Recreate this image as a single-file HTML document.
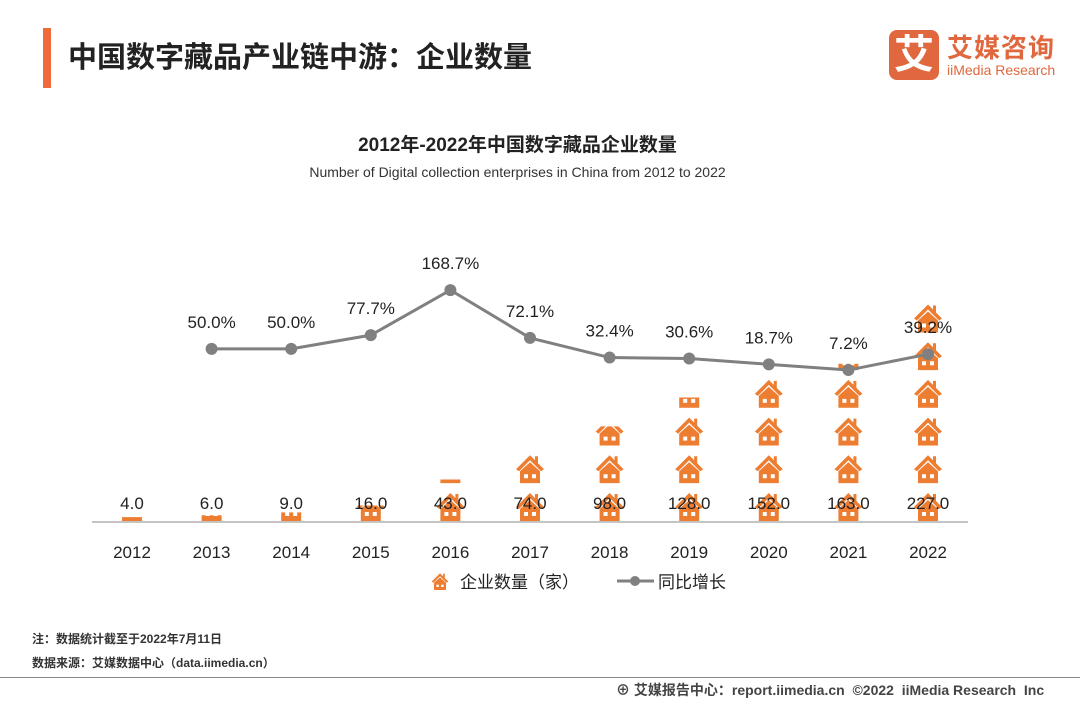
<!DOCTYPE html>
<html><head><meta charset="utf-8"><style>
body{margin:0;width:1080px;height:702px;background:#fff;font-family:"Liberation Sans","Noto Sans CJK SC",sans-serif;overflow:hidden;position:relative}
.abs{position:absolute}
</style></head><body>
<div class="abs" style="left:43px;top:28px;width:8px;height:60px;background:#ef6b3a"></div>
<div class="abs" style="left:68px;top:34px;font-size:29px;font-weight:bold;color:#222">中国数字藏品产业链中游：企业数量</div>
<div class="abs" style="left:889px;top:30px;width:176px;height:52px">
  <div class="abs" style="left:0;top:0;width:50px;height:50px;background:#e0673e;border-radius:8px;color:#fff;font-size:40px;font-weight:bold;text-align:center;line-height:50px">艾</div>
  <div class="abs" style="left:58px;top:-2px;font-size:26px;font-weight:bold;color:#e0673e;letter-spacing:1px">艾媒咨询</div>
  <div class="abs" style="left:58px;top:32px;font-size:14px;color:#e0673e">iiMedia Research</div>
</div>
<div class="abs" style="left:0;width:1035px;top:130px;text-align:center;font-size:19px;font-weight:bold;color:#222">2012年-2022年中国数字藏品企业数量</div>
<div class="abs" style="left:0;width:1035px;top:164px;text-align:center;font-size:14px;color:#333">Number of Digital collection enterprises in China from 2012 to 2022</div>
<svg class="abs" style="left:0;top:0" width="1080" height="702" id="chart">
<defs>
<symbol id="house" viewBox="0 0 30 30">
<path d="M15 2 L1 16 L4 18 L15 7 L26 18 L29 16 L23 10 L23 3 L20 3 L20 7 Z" fill="#ed7d31"/>
<path d="M5 18 L15 9 L25 18 L25 30 L5 30 Z M9 21 L9 25 L13 25 L13 21 Z M17 21 L17 25 L21 25 L21 21 Z" fill="#ed7d31" fill-rule="evenodd"/>
</symbol>
</defs>
</svg>
<div class="abs" style="left:32px;top:630px;font-size:12px;color:#333;font-weight:bold">注：数据统计截至于2022年7月11日</div>
<div class="abs" style="left:32px;top:654px;font-size:12px;color:#333;font-weight:bold">数据来源：艾媒数据中心（data.iimedia.cn）</div>
<div class="abs" style="left:0;top:677px;width:1080px;height:1px;background:#888"></div>
<div class="abs" style="left:616px;top:680px;font-size:14px;color:#444;font-weight:bold;white-space:nowrap">⊕ 艾媒报告中心：report.iimedia.cn &nbsp;©2022 &nbsp;iiMedia Research &nbsp;Inc</div>
<script>
const years=['2012','2013','2014','2015','2016','2017','2018','2019','2020','2021','2022'];
const counts=[4,6,9,16,43,74,98,128,152,163,227];
const growth=[null,50.0,50.0,77.7,168.7,72.1,32.4,30.6,18.7,7.2,39.2];
const countLabels=['4.0','6.0','9.0','16.0','43.0','74.0','98.0','128.0','152.0','163.0','227.0'];
const growthLabels=['','50.0%','50.0%','77.7%','168.7%','72.1%','32.4%','30.6%','18.7%','7.2%','39.2%'];
const NS='http://www.w3.org/2000/svg';
const svg=document.getElementById('chart');
const x=i=>132+i*79.6;
const base=521;
const yc=v=>base-v*0.965;
const yg=v=>373.6-v*0.495;
function mk(t,a){const e=document.createElementNS(NS,t);for(const k in a)e.setAttribute(k,a[k]);svg.appendChild(e);return e;}
const ax=mk('line',{x1:92,x2:968,y1:base+1,y2:base+1,stroke:'#888','stroke-width':1});


const pitch=37.7;
counts.forEach((v,i)=>{
  const cp=mk('clipPath',{id:'c'+i});
  const r=document.createElementNS(NS,'rect');
  r.setAttribute('x',x(i)-20);r.setAttribute('y',yc(v));r.setAttribute('width',40);r.setAttribute('height',base-yc(v));
  cp.appendChild(r);
  const g=mk('g',{'clip-path':'url(#c'+i+')'});
  
  
  const n=Math.ceil((base-yc(v))/pitch);
  for(let k=0;k<n;k++){
    const u=document.createElementNS(NS,'use');
    u.setAttribute('href','#house');u.setAttribute('x',x(i)-15);u.setAttribute('y',base-30-k*pitch);u.setAttribute('width',30);u.setAttribute('height',30);
    g.appendChild(u);
  }
});
let pts=[];
growth.forEach((v,i)=>{if(v!==null)pts.push(x(i)+','+yg(v));});
const pl=mk('polyline',{points:pts.join(' '),fill:'none',stroke:'#808080','stroke-width':3});


growth.forEach((v,i)=>{
  if(v===null)return;
  const c=mk('circle',{cx:x(i),cy:yg(v),r:6,fill:'#808080'});
  
  
  const t=mk('text',{x:x(i),y:yg(v)-21,'text-anchor':'middle','font-size':17,fill:'#222'});
  t.textContent=growthLabels[i];
  
  
});
counts.forEach((v,i)=>{
  const t=mk('text',{x:x(i),y:509,'text-anchor':'middle','font-size':17,fill:'#222'});
  t.textContent=countLabels[i];
  
  
  const l=mk('text',{x:x(i),y:558,'text-anchor':'middle','font-size':17,fill:'#222'});
  l.textContent=years[i];
  
  
});
const lg=mk('use',{href:'#house',x:431,y:572,width:18,height:18});


const lt=mk('text',{x:460,y:588,'font-size':17,fill:'#222'});lt.textContent='企业数量（家）';


const ll=mk('line',{x1:617,x2:654,y1:581,y2:581,stroke:'#808080','stroke-width':3});


const lc=mk('circle',{cx:635,cy:581,r:5,fill:'#808080'});


const lt2=mk('text',{x:658,y:588,'font-size':17,fill:'#222'});lt2.textContent='同比增长';


</script>
</body></html>
